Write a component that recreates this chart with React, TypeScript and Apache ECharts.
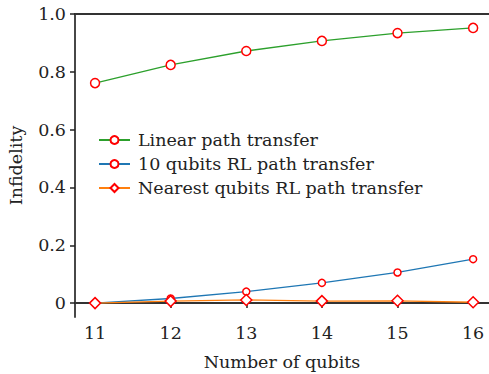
import React, { useEffect, useRef } from "react";
import * as echarts from "echarts";

const qubits = [11, 12, 13, 14, 15, 16];
const linearPath = [0.761, 0.824, 0.872, 0.907, 0.934, 0.952];
const rl10Path = [0.0, 0.016, 0.04, 0.07, 0.106, 0.152];
const nearestPath = [0.0, 0.007, 0.011, 0.007, 0.008, 0.003];
const xTicks = [11, 12, 13, 14, 15, 16];
const yTicks = [0, 0.2, 0.4, 0.6, 0.8, 1.0];
const seriesNames = [
  "Linear path transfer",
  "10 qubits RL path transfer",
  "Nearest qubits RL path transfer",
];

const FONT = "DejaVu Serif";
const FS = 17.5;

export default function App() {
  const ref = useRef<HTMLDivElement>(null);
  useEffect(() => {
    document.body.style.margin = "0";
    const chart = echarts.init(ref.current!, null, { renderer: "svg" });
    const pairs = (arr: number[]) => qubits.map((q, i) => [q, arr[i]]);
    const axisLine = { show: true, lineStyle: { color: "#333", width: 1.8 } };
    const markerStyle = { color: "#fff", borderColor: "#ff0000", borderWidth: 1.5 };
    const txt = { fontFamily: FONT, fontSize: FS, color: "#222" };
    chart.setOption({
      animation: false,
      textStyle: { fontFamily: FONT },
      grid: { left: 75, top: 14, right: 0, bottom: 57, containLabel: false, outerBoundsMode: "none" },
      legend: {
        orient: "vertical",
        left: 93,
        top: 126,
        itemWidth: 31,
        itemHeight: 10,
        itemGap: 6,
        textStyle: { ...txt, lineHeight: 14, padding: [0, 0, 0, 3] },
        data: seriesNames,
      },
      xAxis: [
        {
          type: "value",
          min: 10.735,
          max: 16.21,
          name: "Number of qubits",
          nameLocation: "middle",
          nameGap: 36,
          nameTextStyle: txt,
          axisLine,
          axisTick: { show: true, inside: false, length: 5, customValues: xTicks, lineStyle: { color: "#222", width: 1.5 } },
          axisLabel: { customValues: xTicks, ...txt, margin: 7 },
          splitLine: { show: false },
        },
        {
          type: "value",
          position: "top",
          min: 10.735,
          max: 16.21,
          axisLine,
          axisTick: { show: false },
          axisLabel: { show: false },
          splitLine: { show: false },
        },
      ],
      yAxis: {
        type: "value",
        min: -0.048,
        max: 1.0,
        name: "Infidelity",
        nameLocation: "middle",
        nameGap: 50,
        nameTextStyle: txt,
        axisLine,
        axisTick: { show: true, inside: false, length: 5, customValues: yTicks, lineStyle: { color: "#222", width: 1.5 } },
        axisLabel: {
          customValues: yTicks,
          ...txt,
          margin: 9,
          formatter: (v: number) => (v === 0 ? "0" : v.toFixed(1)),
        },
        splitLine: { show: false },
      },
      series: [
        {
          name: seriesNames[0],
          type: "line",
          data: pairs(linearPath),
          symbol: "circle",
          symbolSize: 9,
          lineStyle: { color: "#2ca02c", width: 1.3 },
          itemStyle: markerStyle,
        },
        {
          name: seriesNames[1],
          type: "line",
          data: pairs(rl10Path),
          symbol: "circle",
          symbolSize: 7,
          lineStyle: { color: "#1f77b4", width: 1.3 },
          itemStyle: markerStyle,
        },
        {
          name: seriesNames[2],
          type: "line",
          data: pairs(nearestPath),
          symbol: "diamond",
          symbolSize: 11,
          lineStyle: { color: "#ff7f0e", width: 1.3 },
          itemStyle: markerStyle,
        },
      ],
    });
    return () => chart.dispose();
  }, []);
  return <div ref={ref} style={{ width: 489, height: 374 }} />;
}
